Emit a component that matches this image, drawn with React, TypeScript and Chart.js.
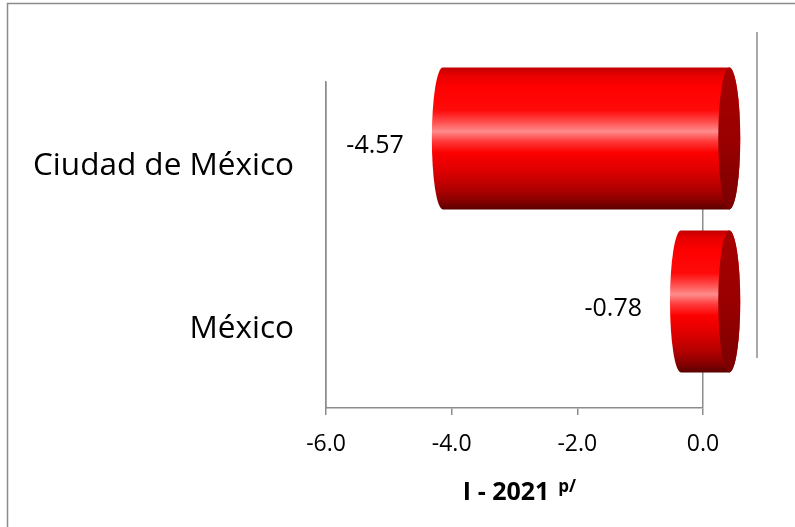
import React, { useEffect, useRef } from "react";
import { Chart, registerables } from "chart.js";

Chart.register(...registerables);

const categories = ["Ciudad de México", "México"];
const values = [-4.57, -0.78];
const xMin = -6;
const xMax = 0;
const xStep = 2;
const axisTitle = "I - 2021";
const axisTitleSup = "p/";

const FONT = "'Open Sans', 'DejaVu Sans', sans-serif";
const GRAY = "#8c8c8c";

export default function App() {
  const ref = useRef<HTMLCanvasElement | null>(null);

  useEffect(() => {
    const canvas = ref.current;
    if (!canvas) return;
    const depthX = 27;
    const depthY = -25;
    const PAD = { top: 82, right: 92, bottom: 0, left: 10 };

    const cylinders = {
      id: "cylinders",
      afterDatasetsDraw(chart: any) {
        const ctx = chart.ctx;
        const meta = chart.getDatasetMeta(0);
        meta.data.forEach((el: any) => {
          const p = el.getProps(["x", "y", "base", "height"], true);
          const x0 = Math.min(p.x, p.base) + depthX;
          const x1 = Math.max(p.x, p.base) + depthX;
          const cy = p.y + depthY;
          const ry = p.height / 2;
          const rx = 11;
          const g = ctx.createLinearGradient(0, cy - ry, 0, cy + ry);
          g.addColorStop(0, "#c00000");
          g.addColorStop(0.05, "#e60000");
          g.addColorStop(0.14, "#ff0000");
          g.addColorStop(0.3, "#ff0a0a");
          g.addColorStop(0.38, "#ff4a4a");
          g.addColorStop(0.45, "#ff8c8c");
          g.addColorStop(0.52, "#ff3a3a");
          g.addColorStop(0.6, "#fc0000");
          g.addColorStop(0.72, "#e00000");
          g.addColorStop(0.86, "#b00000");
          g.addColorStop(0.95, "#800000");
          g.addColorStop(1, "#5a0000");
          ctx.save();
          ctx.beginPath();
          ctx.ellipse(x0, cy, rx, ry, 0, Math.PI / 2, Math.PI * 1.5);
          ctx.lineTo(x1, cy - ry);
          ctx.ellipse(x1, cy, rx, ry, 0, -Math.PI / 2, Math.PI / 2);
          ctx.closePath();
          ctx.fillStyle = g;
          ctx.fill();
          const gc = ctx.createLinearGradient(0, cy - ry, 0, cy + ry);
          gc.addColorStop(0, "#a80000");
          gc.addColorStop(0.5, "#9a0000");
          gc.addColorStop(1, "#7a0000");
          ctx.beginPath();
          ctx.ellipse(x1, cy, rx, ry, 0, 0, Math.PI * 2);
          ctx.fillStyle = gc;
          ctx.fill();
          ctx.restore();
        });
      },
      afterDraw(chart: any) {
        const ctx = chart.ctx;
        const xs = chart.scales.x;
        const area = chart.chartArea;
        const meta = chart.getDatasetMeta(0);
        ctx.save();
        // value labels
        ctx.font = `25px ${FONT}`;
        ctx.fillStyle = "#000";
        ctx.textAlign = "right";
        ctx.textBaseline = "middle";
        meta.data.forEach((el: any, i: number) => {
          const p = el.getProps(["x", "y"], true);
          ctx.fillText(values[i].toFixed(2), p.x - 12, p.y - 18);
        });
        // back wall line
        const xz = xs.getPixelForValue(0);
        ctx.strokeStyle = GRAY;
        ctx.lineWidth = 1.5;
        ctx.beginPath();
        ctx.moveTo(xz + 2 * depthX, area.top + 2 * depthY);
        ctx.lineTo(xz + 2 * depthX, area.bottom + 2 * depthY);
        ctx.stroke();
        // frame
        ctx.strokeRect(7.5, 3.5, 1000, 1000);
        // axis title
        const cx = (area.left + area.right) / 2 + 5;
        ctx.font = `bold 25px ${FONT}`;
        const w1 = ctx.measureText(axisTitle).width;
        ctx.font = `bold 17px ${FONT}`;
        const w2 = ctx.measureText(axisTitleSup).width;
        const gap = 9;
        const start = cx - (w1 + gap + w2) / 2;
        ctx.textAlign = "left";
        ctx.textBaseline = "alphabetic";
        ctx.font = `bold 25px ${FONT}`;
        ctx.fillText(axisTitle, start, 500);
        ctx.font = `bold 17px ${FONT}`;
        ctx.fillText(axisTitleSup, start + w1 + gap, 492);
        ctx.restore();
      },
    };

    const chart = new Chart(canvas, {
      type: "bar",
      data: {
        labels: categories,
        datasets: [
          {
            data: values,
            backgroundColor: "rgba(0,0,0,0)",
            borderWidth: 0,
            barPercentage: 0.87,
            categoryPercentage: 1,
          },
        ],
      },
      options: {
        indexAxis: "y",
        animation: false,
        responsive: false,
        maintainAspectRatio: false,
        layout: { padding: PAD },
        plugins: { legend: { display: false }, tooltip: { enabled: false } },
        scales: {
          x: {
            type: "linear",
            min: xMin,
            max: xMax,
            z: 1,
            ticks: {
              stepSize: xStep,
              color: "#000",
              font: { family: FONT, size: 23 },
              padding: 16,
              maxRotation: 0,
              callback: (v: any) => Number(v).toFixed(1),
            },
            grid: {
              color: (c: any) =>
                c.tick && (c.tick.value === xMin || c.tick.value === 0) ? GRAY : "rgba(0,0,0,0)",
              tickColor: GRAY,
              tickLength: 7,
              lineWidth: 1.5,
            },
            border: { display: true, color: GRAY, width: 1.5 },
            afterFit: (s: any) => {
              s.height = 527 - 408 - PAD.bottom;
            },
          },
          y: {
            ticks: {
              color: "#000",
              font: { family: FONT, size: 31.5 },
              padding: 24,
              labelOffset: 3,
            },
            grid: { display: false },
            border: { display: true, color: GRAY, width: 1.5 },
            afterFit: (s: any) => {
              s.width = 326 - PAD.left;
            },
          },
        },
      },
      plugins: [cylinders],
    });
    return () => chart.destroy();
  }, []);

  return (
    <div style={{ position: "absolute", left: 0, top: 0, width: 795, height: 527, background: "#fff" }}>
      <canvas ref={ref} width={795} height={527} style={{ width: 795, height: 527, display: "block" }} />
    </div>
  );
}
